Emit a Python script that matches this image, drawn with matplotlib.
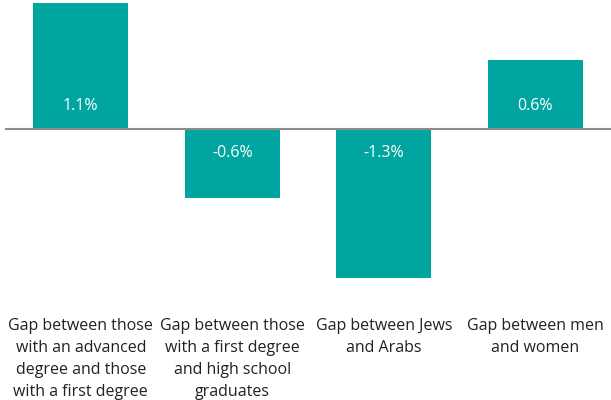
import matplotlib
matplotlib.use("Agg")
import matplotlib.pyplot as plt

categories = [
    "Gap between those\nwith an advanced\ndegree and those\nwith a first degree",
    "Gap between those\nwith a first degree\nand high school\ngraduates",
    "Gap between Jews\nand Arabs",
    "Gap between men\nand women",
]
values = [1.1, -0.6, -1.3, 0.6]
value_labels = ["1.1%", "-0.6%", "-1.3%", "0.6%"]

plt.rcParams['font.family'] = ['Open Sans', 'DejaVu Sans']

fig = plt.figure(figsize=(6.11, 4.0), dpi=100)
W, H = 611, 400
left, right, top, bottom = 5, 611, 0, 290
ax = fig.add_axes([left / W, 1 - bottom / H, (right - left) / W, (bottom - top) / H])

x = list(range(len(categories)))
ax.bar(x, values, width=0.627, color="#00a5a0", zorder=2)
ax.axhline(0, color="#8c8c8c", linewidth=1.5, zorder=3)
ax.set_xlim(-0.5, len(categories) - 0.5)
ax.set_ylim(-(bottom - 129) / 114.5, 129 / 114.5)

for xi, v, lab in zip(x, values, value_labels):
    off = 16.5 if v > 0 else -17.5
    ax.annotate(lab, xy=(xi, 0), xytext=(0, off), textcoords="offset points",
                ha="center", va="center", color="white", fontsize=11.5, zorder=4)

ax.set_xticks(x)
ax.set_xticklabels(categories, fontsize=11.5, color="#222222", linespacing=1.52, va="top")
ax.tick_params(axis="x", length=0, pad=20)
ax.set_yticks([])
for s in ax.spines.values():
    s.set_visible(False)

fig.savefig("out.png", dpi=100)
